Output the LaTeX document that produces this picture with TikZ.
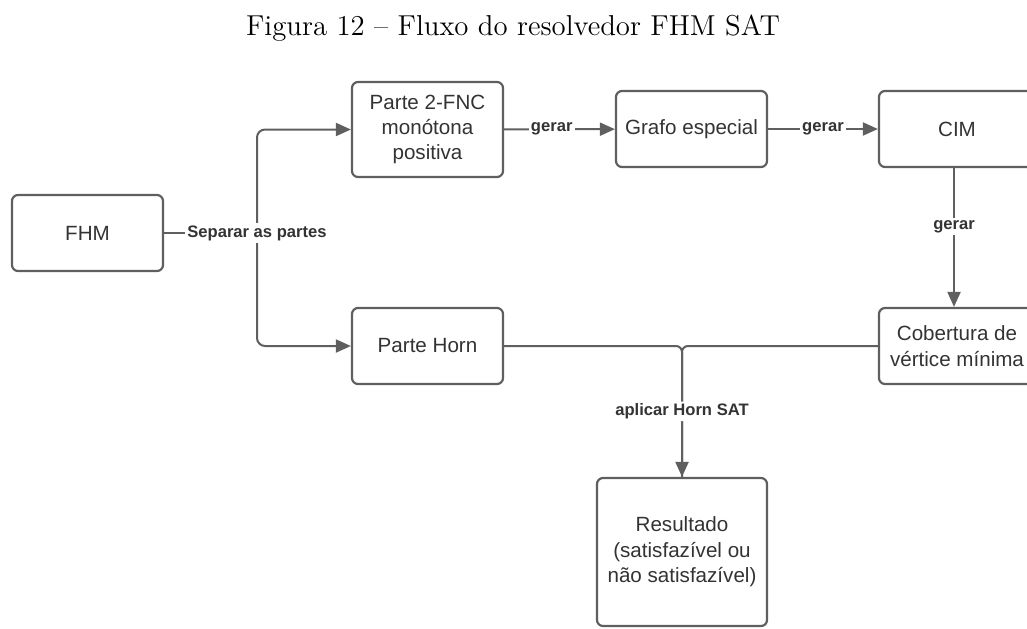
\documentclass[tikz,border=0pt]{standalone}
\usepackage{fontspec}
\newfontfamily\diagfont{Liberation Sans}
\usepackage{tikz}
\usetikzlibrary{arrows.meta}
\definecolor{linegray}{HTML}{5F5F5F}
\definecolor{textgray}{HTML}{333333}
\tikzstyle{box}=[draw=linegray,line width=1.1pt,rounded corners=3pt,minimum width=75.5pt,minimum height=38pt,align=center,text=textgray,font=\diagfont\fontsize{10.3}{12.7}\selectfont,inner sep=2pt]
\tikzstyle{lbl}=[fill=white,inner sep=1pt,text=textgray,font=\diagfont\bfseries\fontsize{8.3}{10}\selectfont]
\tikzstyle{conn}=[draw=linegray,line width=1pt,-{Triangle[length=7.5pt,width=6.5pt]}]

\begin{document}
\begin{tikzpicture}[x=0.5pt,y=-0.5pt]
          \useasboundingbox (0,0) rectangle (1027,628);
          \node[font=\fontsize{14.4}{17}\selectfont] (title) at (513,28) {Figura 12 -- Fluxo do resolvedor FHM SAT};
          \node[box] (fhm) at (87.5,233) {FHM};
          \node[box,minimum height=47.5pt] (p2fnc) at (427.5,129.5) {Parte 2-FNC\\mon\'otona\\positiva};
          \node[box] (grafo) at (691.5,129) {Grafo especial};
          \node[box,minimum width=78pt] (cim) at (957,129) {CIM};
          \node[box,minimum width=78pt] (cob) at (957,346) {Cobertura de\\v\'ertice m\'inima};
          \node[box] (horn) at (427.5,346) {Parte Horn};
          \node[box,minimum width=85pt,minimum height=74pt] (res) at (682,552) {Resultado\\(satisfaz\'ivel ou\\n\~ao satisfaz\'ivel)};
          \coordinate (split) at (257,233);
          \draw[conn,-] (fhm) -- (split);
          \draw[conn,rounded corners=4pt] (split) |- (p2fnc);
          \draw[conn,rounded corners=4pt] (split) |- (horn);
          \node[lbl] at (split) {Separar as partes};
          \draw[conn] (p2fnc) -- node[lbl,pos=0.43] {gerar} (grafo);
          \draw[conn] (grafo) -- node[lbl] {gerar} (cim);
          \draw[conn] ([xshift=-1.5pt]cim.south) -- node[lbl,pos=0.42] {gerar} ([xshift=-1.5pt]cob.north);
          \draw[conn,-,rounded corners=3pt] (cob) -| (res);
          \draw[conn,rounded corners=3pt] (horn) -| node[lbl,pos=0.75] {aplicar Horn SAT} (res);
        \end{tikzpicture}
\end{document}
